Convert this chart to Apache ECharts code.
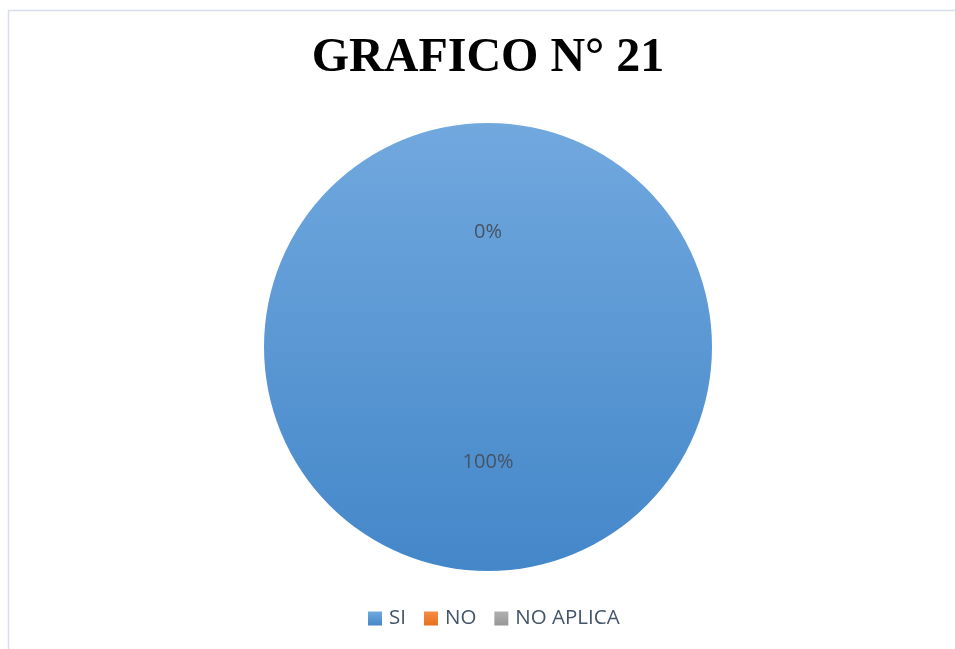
<!DOCTYPE html>
<html>
<head>
<meta charset="utf-8">
<script src="https://cdn.jsdelivr.net/npm/echarts@6/dist/echarts.min.js"></script>
<style>
  html, body { margin: 0; padding: 0; background: #ffffff; }
  #chart { width: 955px; height: 649px; }
</style>
</head>
<body>
<div id="chart"></div>
<script>
// Respuestas y valores del gráfico
const categories = ['SI', 'NO', 'NO APLICA'];
const values = [100, 0, 0];
const titleText = 'GRAFICO N° 21';

// Degradados verticales por categoría (claro arriba, oscuro abajo)
const gradients = [
  ['#71a8de', '#4487c9'],
  ['#f58c46', '#e5711f'],
  ['#b0b0b0', '#979797']
];

function grad(pair) {
  return new echarts.graphic.LinearGradient(0, 0, 0, 1, [
    { offset: 0, color: pair[0] },
    { offset: 1, color: pair[1] }
  ]);
}

const pieData = categories.map((name, i) => ({
  name: name,
  value: values[i],
  itemStyle: { color: grad(gradients[i]) },
  // las dos porciones en cero comparten posición; basta una etiqueta
  label: { show: i !== 2 }
}));

const chart = echarts.init(document.getElementById('chart'), null, { renderer: 'canvas' });

chart.setOption({
  backgroundColor: '#ffffff',
  animation: false,
  graphic: [{
    type: 'polyline',
    silent: true,
    shape: { points: [[8.5, 660], [8.5, 10.5], [970, 10.5]] },
    style: { fill: 'none', stroke: '#d9dfe9', lineWidth: 1.5 }
  }],
  title: {
    text: titleText,
    left: 483,
    textAlign: 'center',
    top: 30,
    textStyle: {
      fontFamily: '"Liberation Serif", "Times New Roman", serif',
      fontWeight: 'bold',
      fontSize: 48,
      color: '#000000'
    }
  },
  legend: {
    data: categories,
    left: 363,
    top: 603,
    icon: 'rect',
    itemWidth: 14,
    itemHeight: 14,
    itemGap: 18,
    textStyle: {
      fontFamily: '"Open Sans", sans-serif',
      fontSize: 20.5,
      color: '#44546a',
      padding: [0, 0, 0, 2]
    }
  },
  series: [{
    type: 'pie',
    center: [488, 347],
    radius: 224,
    startAngle: 90,
    clockwise: true,
    avoidLabelOverlap: false,
    minShowLabelAngle: 0,
    label: {
      position: 'inside',
      formatter: '{d}%',
      fontFamily: '"Open Sans", sans-serif',
      fontSize: 20,
      color: '#465364'
    },
    labelLine: { show: false },
    itemStyle: { borderWidth: 0 },
    emphasis: { disabled: true },
    data: pieData
  }]
});
</script>
</body>
</html>
